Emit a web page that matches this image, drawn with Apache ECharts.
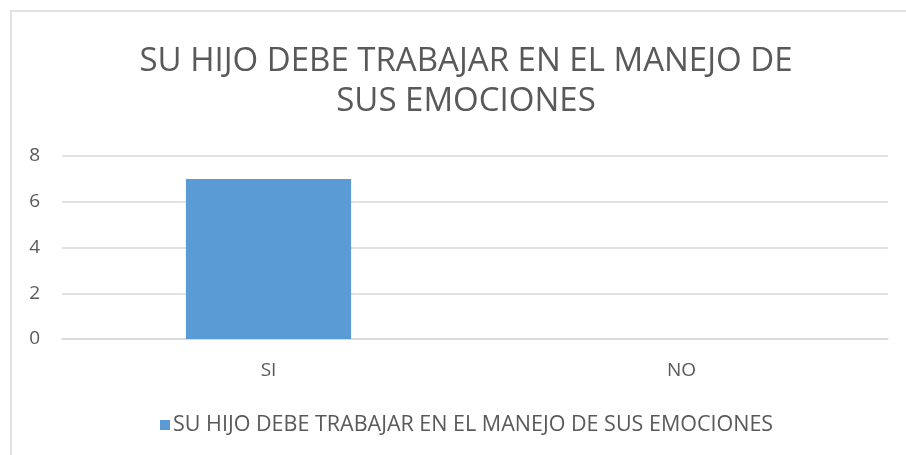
<!DOCTYPE html>
<html><head><meta charset="utf-8">
<script src="https://cdn.jsdelivr.net/npm/echarts@6/dist/echarts.min.js"></script>
<style>html,body{margin:0;padding:0;background:#fff}#c{width:906px;height:455px}</style>
</head><body><div id="c"></div>
<script>
const titleText = 'SU HIJO DEBE TRABAJAR EN EL MANEJO DE\nSUS EMOCIONES';
const categories = ['SI', 'NO'];
const seriesName = 'SU HIJO DEBE TRABAJAR EN EL MANEJO DE SUS EMOCIONES';
const values = [7, 0];
const yTicks = {min: 0, max: 8, interval: 2};
const FONT = "'Open Sans', sans-serif";
const chart = echarts.init(document.getElementById('c'), null, {renderer: 'canvas'});
chart.setOption({
  animation: false,
  textStyle: {fontFamily: FONT},
  graphic: [{type: 'rect', shape: {x: 11, y: 11, width: 1000, height: 1000}, style: {fill: 'none', stroke: '#d9d9d9', lineWidth: 1.5}, silent: true}],
  title: {text: titleText, left: 461, top: 37, textAlign: 'center',
    textStyle: {fontFamily: FONT, fontSize: 33, fontWeight: 'normal', color: '#595959', lineHeight: 40}},
  grid: {left: 62, right: 18, top: 156, bottom: 116},
  legend: {bottom: 14, left: 155, icon: 'rect', itemWidth: 10, itemHeight: 10, itemGap: 5,
    textStyle: {fontFamily: FONT, fontSize: 21.5, color: '#595959', padding: [0,0,0,-2]}},
  xAxis: {type: 'category', data: categories, axisTick: {show: false},
    axisLine: {lineStyle: {color: '#d9d9d9', width: 1.5}},
    axisLabel: {color: '#595959', fontSize: 19, margin: 22, fontFamily: FONT}},
  yAxis: {type: 'value', min: yTicks.min, max: yTicks.max, interval: yTicks.interval,
    axisLine: {show: false}, axisTick: {show: false},
    splitLine: {lineStyle: {color: '#d9d9d9', width: 1.5}},
    axisLabel: {color: '#595959', fontSize: 19, margin: 22, fontFamily: FONT}},
  series: [{type: 'bar', name: seriesName, data: values, barCategoryGap: '60%',
    itemStyle: {color: '#5b9bd5'}}]
});
</script></body></html>
